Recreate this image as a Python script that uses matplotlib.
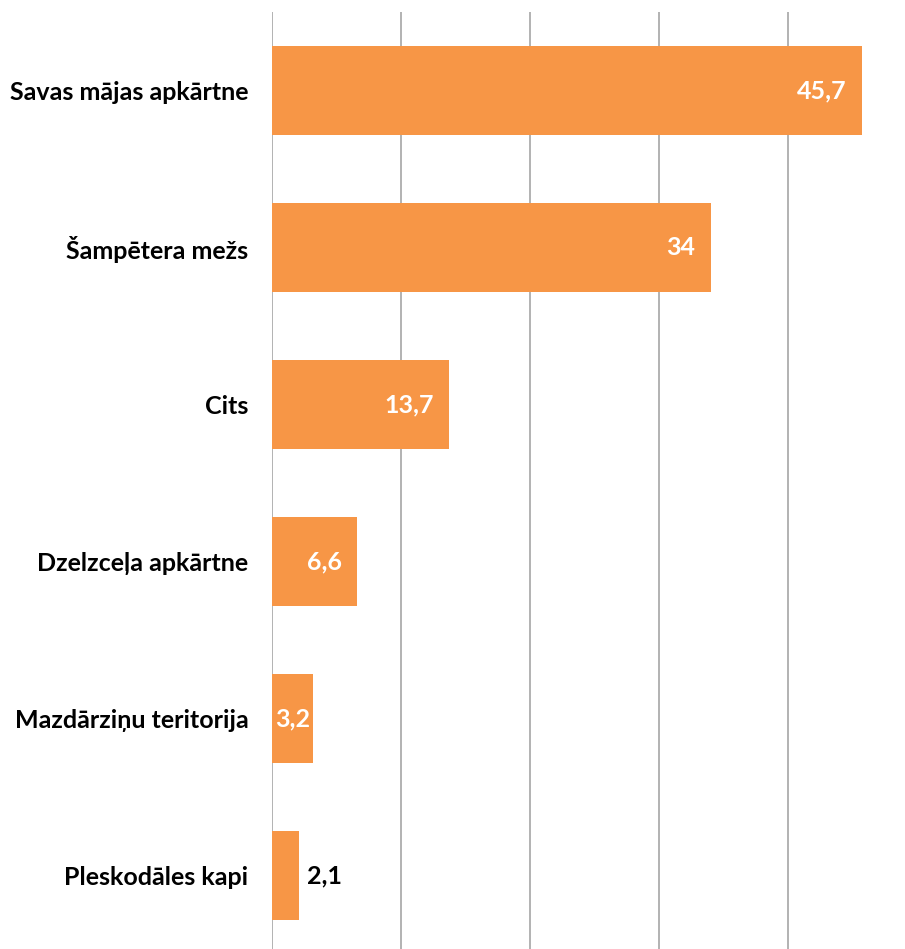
import matplotlib
matplotlib.use("Agg")
import matplotlib.pyplot as plt

categories = ["Savas mājas apkārtne", "Šampētera mežs", "Cits",
              "Dzelzceļa apkārtne", "Mazdārziņu teritorija", "Pleskodāles kapi"]
values = [45.7, 34, 13.7, 6.6, 3.2, 2.1]
value_labels = ["45,7", "34", "13,7", "6,6", "3,2", "2,1"]

plt.rcParams['font.family'] = ['Lato', 'DejaVu Sans']
FS = 18

fig = plt.figure(figsize=(9.05, 9.49), dpi=100)
ax = fig.add_axes([272/905, 1 - 954/949, 1 - 272/905, 942/949])

ys = list(range(len(categories)))
ax.barh(ys, values, height=0.57, color="#F79646", zorder=3)
ax.set_ylim(len(categories) - 0.5, -0.5)
ax.set_xlim(0, 633/12.9)
ax.set_xticks([0, 10, 20, 30, 40])
ax.grid(axis='x', color='#A6A6A6', linewidth=1.2, zorder=0)
ax.tick_params(axis='x', length=0, labelbottom=False)
ax.tick_params(axis='y', length=0, pad=17)
ax.set_yticks(ys)
ax.set_yticklabels(categories, fontsize=FS, fontweight='bold')
for s in ax.spines.values():
    s.set_visible(False)

for y, v, lab in zip(ys, values, value_labels):
    if v > 5:
        ax.annotate(lab, (v, y), xytext=(-11, 0), textcoords='offset points',
                    ha='right', va='center', color='white', fontsize=FS, fontweight='bold', zorder=4)
    elif v > 3:
        ax.annotate(lab, (0, y), xytext=(2, 0), textcoords='offset points',
                    ha='left', va='center', color='white', fontsize=FS, fontweight='bold', zorder=4)
    else:
        ax.annotate(lab, (v, y), xytext=(6, 0), textcoords='offset points',
                    ha='left', va='center', color='black', fontsize=FS, fontweight='bold', zorder=4)

fig.savefig("out.png", dpi=100)
